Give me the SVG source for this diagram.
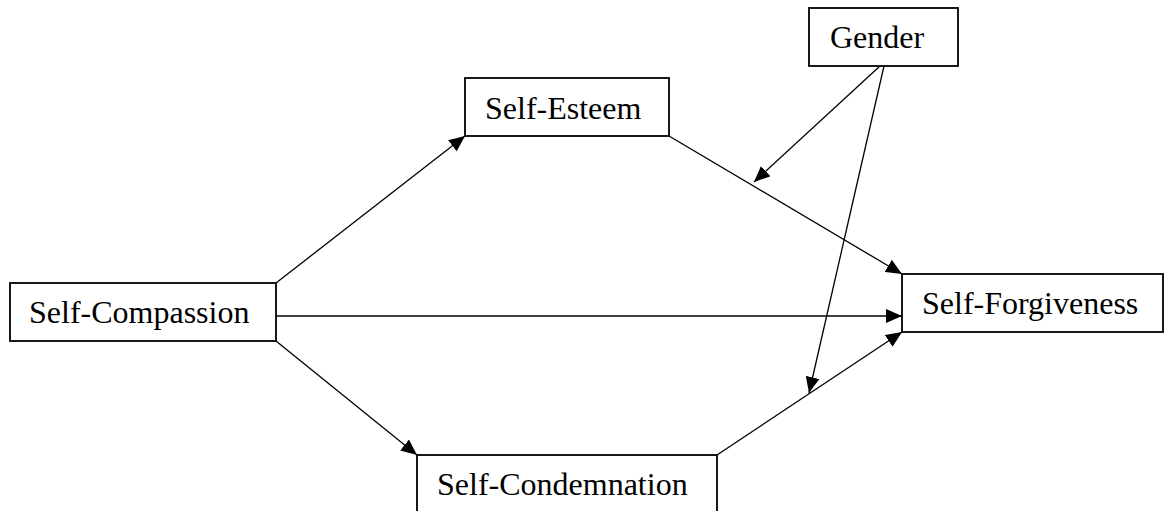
<svg xmlns="http://www.w3.org/2000/svg" width="1165" height="511" viewBox="0 0 1165 511">
<style>
.box{fill:#fff;stroke:#000;stroke-width:1.8}
.lbl{font-family:"Liberation Serif","Times New Roman",serif;font-size:32px;fill:#000}
.edge{stroke:#000;stroke-width:1.3;fill:none;marker-end:url(#ah)}
</style>
<defs>
<marker id="ah" markerUnits="userSpaceOnUse" markerWidth="17" markerHeight="14" refX="16" refY="7" orient="auto">
<path d="M0,0 L16,7 L0,14 Z" fill="#000"/>
</marker>
</defs>
<rect width="1165" height="511" fill="#fff"/>
<g id="connectors">
<line class="edge" x1="276" y1="283" x2="465" y2="136"/>
<line class="edge" x1="276" y1="316" x2="902" y2="316"/>
<line class="edge" x1="276" y1="341" x2="417" y2="455"/>
<line class="edge" x1="669" y1="136" x2="902" y2="274"/>
<line class="edge" x1="717" y1="455" x2="902" y2="332"/>
<line class="edge" x1="880" y1="66" x2="754" y2="182"/>
<line class="edge" x1="884" y1="66" x2="809" y2="393"/>
</g>
<g id="self-compassion">
<rect class="box" x="10" y="283" width="266" height="58"/>
<text class="lbl" x="29" y="323">Self-Compassion</text>
</g>
<g id="self-esteem">
<rect class="box" x="465" y="78" width="204" height="58"/>
<text class="lbl" x="485" y="119">Self-Esteem</text>
</g>
<g id="gender">
<rect class="box" x="809" y="8" width="149" height="58"/>
<text class="lbl" x="830" y="48">Gender</text>
</g>
<g id="self-forgiveness">
<rect class="box" x="902" y="274" width="261" height="58"/>
<text class="lbl" x="922" y="314">Self-Forgiveness</text>
</g>
<g id="self-condemnation">
<rect class="box" x="417" y="455" width="300" height="70"/>
<text class="lbl" x="437" y="495">Self-Condemnation</text>
</g>
</svg>
